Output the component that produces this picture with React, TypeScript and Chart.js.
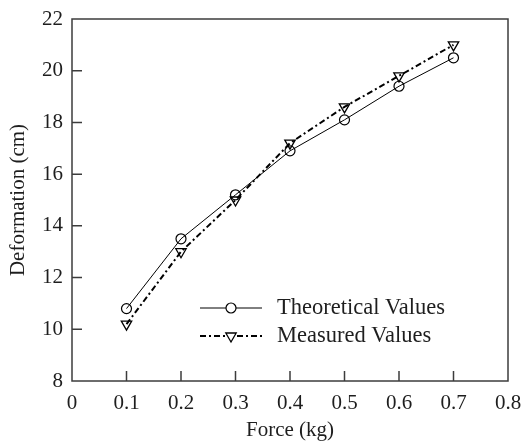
import React, { useEffect, useRef } from "react";
import { Chart, registerables } from "chart.js";

Chart.register(...registerables);

const forces = [0.1, 0.2, 0.3, 0.4, 0.5, 0.6, 0.7];
const theoretical = [10.8, 13.5, 15.2, 16.9, 18.1, 19.4, 20.5];
const measured = [10.2, 13.0, 15.0, 17.2, 18.6, 19.8, 21.0];
const xTickLabels = ["0", "0.1", "0.2", "0.3", "0.4", "0.5", "0.6", "0.7", "0.8"];
const yTickLabels = ["8", "10", "12", "14", "16", "18", "20", "22"];
const seriesNames = ["Theoretical Values", "Measured Values"];

const FONT = "'Liberation Serif', 'Times New Roman', serif";
const INK = "#1e1e1e";
const FRAME = "#3c3c3c";
const DASH_DOT = [6, 3, 2, 3];

// Frame, inward tick marks and the hand-drawn legend
const framePlugin = {
  id: "frameAndLegend",
  afterDatasetsDraw(chart: any) {
    const { ctx, chartArea, scales } = chart;
    const { left, right, top, bottom } = chartArea;
    ctx.save();
    ctx.strokeStyle = FRAME;
    ctx.lineWidth = 1.5;
    ctx.strokeRect(left, top, right - left, bottom - top);

    const tickLen = 10;
    ctx.beginPath();
    scales.x.ticks.forEach((t: any) => {
      const px = scales.x.getPixelForValue(t.value);
      if (px <= left + 1 || px >= right - 1) return;
      ctx.moveTo(px, bottom);
      ctx.lineTo(px, bottom - tickLen);
    });
    scales.y.ticks.forEach((t: any) => {
      const py = scales.y.getPixelForValue(t.value);
      if (py <= top + 1 || py >= bottom - 1) return;
      ctx.moveTo(left, py);
      ctx.lineTo(left + tickLen, py);
    });
    ctx.stroke();

    // legend
    const lx0 = 200;
    const lx1 = 262;
    const mx = 231;
    const tx = 277;
    const rows = [308, 336];

    ctx.strokeStyle = "#000";
    ctx.lineWidth = 1;
    ctx.setLineDash([]);
    ctx.beginPath();
    ctx.moveTo(lx0, rows[0]);
    ctx.lineTo(mx - 5, rows[0]);
    ctx.moveTo(mx + 5, rows[0]);
    ctx.lineTo(lx1, rows[0]);
    ctx.stroke();
    ctx.lineWidth = 1.2;
    ctx.beginPath();
    ctx.arc(mx, rows[0], 5, 0, Math.PI * 2);
    ctx.stroke();

    ctx.lineWidth = 2;
    ctx.setLineDash(DASH_DOT);
    ctx.beginPath();
    ctx.moveTo(lx0, rows[1]);
    ctx.lineTo(mx - 6, rows[1]);
    ctx.moveTo(mx + 6, rows[1]);
    ctx.lineTo(lx1, rows[1]);
    ctx.stroke();
    ctx.setLineDash([]);
    ctx.lineWidth = 1.3;
    const r = 6;
    ctx.beginPath();
    for (let k = 0; k < 3; k++) {
      const a = Math.PI + (k * 2 * Math.PI) / 3;
      const x = mx + Math.sin(a) * r;
      const y = rows[1] - Math.cos(a) * r;
      if (k === 0) ctx.moveTo(x, y);
      else ctx.lineTo(x, y);
    }
    ctx.closePath();
    ctx.stroke();

    ctx.fillStyle = INK;
    ctx.font = `22.5px ${FONT}`;
    ctx.textBaseline = "middle";
    ctx.textAlign = "left";
    ctx.fillText(seriesNames[0], tx, rows[0]);
    ctx.fillText(seriesNames[1], tx, rows[1]);
    ctx.restore();
  },
};

export default function App() {
  const canvasRef = useRef<HTMLCanvasElement | null>(null);

  useEffect(() => {
    if (!canvasRef.current) return;
    const chart = new Chart(canvasRef.current, {
      type: "line",
      data: {
        datasets: [
          {
            label: seriesNames[0],
            data: forces.map((f, i) => ({ x: f, y: theoretical[i] })),
            borderColor: "#000",
            borderWidth: 1,
            pointStyle: "circle",
            pointRadius: 5,
            pointBorderWidth: 1.2,
            pointBorderColor: "#000",
            pointBackgroundColor: "rgba(0,0,0,0)",
            tension: 0,
          },
          {
            label: seriesNames[1],
            data: forces.map((f, i) => ({ x: f, y: measured[i] })),
            borderColor: "#000",
            borderWidth: 2,
            borderDash: DASH_DOT,
            pointStyle: "triangle",
            rotation: 180,
            pointRadius: 6,
            pointBorderWidth: 1.3,
            pointBorderColor: "#000",
            pointBackgroundColor: "rgba(0,0,0,0)",
            tension: 0,
          },
        ],
      },
      options: {
        animation: false,
        responsive: true,
        maintainAspectRatio: false,
        layout: { padding: { top: 19, right: 16, left: 0, bottom: 0 } },
        plugins: {
          legend: { display: false },
          tooltip: { enabled: false },
        },
        scales: {
          x: {
            type: "linear",
            min: 0,
            max: 0.8,
            grid: { display: false, drawTicks: false },
            border: { display: false },
            ticks: {
              stepSize: 0.1,
              padding: 10,
              color: INK,
              font: { family: FONT, size: 21 },
              maxRotation: 0,
              autoSkip: false,
              callback: (_v: any, i: number) => xTickLabels[i],
            },
            title: {
              display: true,
              text: "Force (kg)",
              color: INK,
              font: { family: FONT, size: 21 },
              padding: { top: 0, bottom: 1 },
            },
            afterFit: (s: any) => {
              s.height = 63;
              s.paddingLeft = 0;
              s.paddingRight = 0;
            },
          },
          y: {
            type: "linear",
            min: 8,
            max: 22,
            grid: { display: false, drawTicks: false },
            border: { display: false },
            ticks: {
              stepSize: 2,
              padding: 9,
              color: INK,
              font: { family: FONT, size: 21 },
              autoSkip: false,
              callback: (_v: any, i: number) => yTickLabels[i],
            },
            title: {
              display: true,
              text: "Deformation (cm)",
              color: INK,
              font: { family: FONT, size: 21 },
              padding: { top: 6, bottom: 0 },
            },
            afterFit: (s: any) => {
              s.width = 72;
              s.paddingTop = 0;
              s.paddingBottom = 0;
            },
          },
        },
      },
      plugins: [framePlugin],
    });
    return () => chart.destroy();
  }, []);

  return (
    <div
      style={{
        position: "fixed",
        left: 0,
        top: 0,
        width: 524,
        height: 444,
        background: "#fff",
      }}
    >
      <canvas ref={canvasRef} />
    </div>
  );
}
